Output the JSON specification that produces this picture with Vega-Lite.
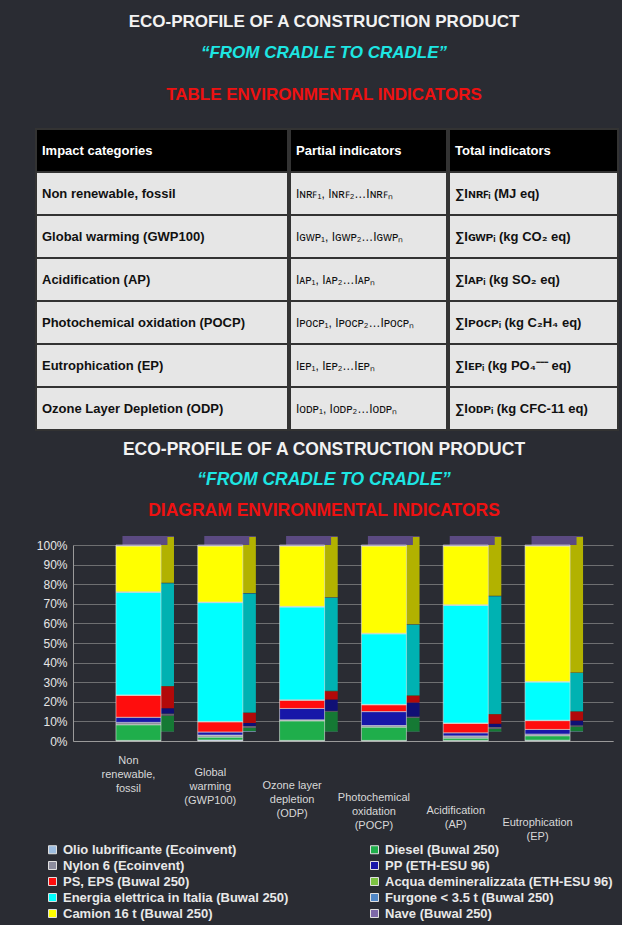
{
  "$schema": "https://vega.github.io/schema/vega-lite/v6.json",
  "background": "#2a2c33",
  "padding": {"left": 0, "top": 0, "right": 0, "bottom": 4},
  "spacing": 0,
  "config": {"view": {"stroke": null}, "font": "Liberation Sans"},
  "datasets": {
    "table": [
      {"row": 0, "c1": "Impact categories", "c2": "Partial indicators", "c3": "Total indicators"},
      {"row": 1, "c1": "Non renewable, fossil", "c2": "Iɴʀꜰ₁, Iɴʀꜰ₂…Iɴʀꜰₙ", "c3": "∑Iɴʀꜰᵢ  (MJ eq)"},
      {"row": 2, "c1": "Global warming (GWP100)", "c2": "Iɢᴡᴘ₁, Iɢᴡᴘ₂…Iɢᴡᴘₙ", "c3": "∑Iɢᴡᴘᵢ (kg CO₂ eq)"},
      {"row": 3, "c1": "Acidification (AP)", "c2": "Iᴀᴘ₁, Iᴀᴘ₂…Iᴀᴘₙ", "c3": "∑Iᴀᴘᵢ (kg SO₂ eq)"},
      {"row": 4, "c1": "Photochemical oxidation (POCP)", "c2": "Iᴘᴏᴄᴘ₁, Iᴘᴏᴄᴘ₂…Iᴘᴏᴄᴘₙ", "c3": "∑Iᴘᴏᴄᴘᵢ (kg C₂H₄ eq)"},
      {"row": 5, "c1": "Eutrophication (EP)", "c2": "Iᴇᴘ₁, Iᴇᴘ₂…Iᴇᴘₙ", "c3": "∑Iᴇᴘᵢ (kg PO₄⁻⁻⁻ eq)"},
      {"row": 6, "c1": "Ozone Layer Depletion (ODP)", "c2": "Iᴏᴅᴘ₁, Iᴏᴅᴘ₂…Iᴏᴅᴘₙ", "c3": "∑Iᴏᴅᴘᵢ  (kg CFC-11 eq)"}
    ],
    "bars": [
      {"cat": "Non\nrenewable,\nfossil", "comp": "Olio lubrificante (Ecoinvent)", "ord": 1, "pct": 0.3},
      {"cat": "Non\nrenewable,\nfossil", "comp": "Diesel (Buwal 250)", "ord": 2, "pct": 8.0},
      {"cat": "Non\nrenewable,\nfossil", "comp": "Nylon 6 (Ecoinvent)", "ord": 3, "pct": 1.2},
      {"cat": "Non\nrenewable,\nfossil", "comp": "PP (ETH-ESU 96)", "ord": 4, "pct": 2.6},
      {"cat": "Non\nrenewable,\nfossil", "comp": "PS, EPS (Buwal 250)", "ord": 5, "pct": 11.2},
      {"cat": "Non\nrenewable,\nfossil", "comp": "Acqua demineralizzata (ETH-ESU 96)", "ord": 6, "pct": 0.2},
      {"cat": "Non\nrenewable,\nfossil", "comp": "Energia elettrica in Italia (Buwal 250)", "ord": 7, "pct": 52.4},
      {"cat": "Non\nrenewable,\nfossil", "comp": "Furgone < 3.5 t (Buwal 250)", "ord": 8, "pct": 0.2},
      {"cat": "Non\nrenewable,\nfossil", "comp": "Camion 16 t (Buwal 250)", "ord": 9, "pct": 23.4},
      {"cat": "Non\nrenewable,\nfossil", "comp": "Nave (Buwal 250)", "ord": 10, "pct": 0.5},
      {"cat": "Global\nwarming\n(GWP100)", "comp": "Olio lubrificante (Ecoinvent)", "ord": 1, "pct": 0.5},
      {"cat": "Global\nwarming\n(GWP100)", "comp": "Diesel (Buwal 250)", "ord": 2, "pct": 1.5},
      {"cat": "Global\nwarming\n(GWP100)", "comp": "Nylon 6 (Ecoinvent)", "ord": 3, "pct": 1.0},
      {"cat": "Global\nwarming\n(GWP100)", "comp": "PP (ETH-ESU 96)", "ord": 4, "pct": 1.6},
      {"cat": "Global\nwarming\n(GWP100)", "comp": "PS, EPS (Buwal 250)", "ord": 5, "pct": 5.2},
      {"cat": "Global\nwarming\n(GWP100)", "comp": "Acqua demineralizzata (ETH-ESU 96)", "ord": 6, "pct": 0.2},
      {"cat": "Global\nwarming\n(GWP100)", "comp": "Energia elettrica in Italia (Buwal 250)", "ord": 7, "pct": 60.6},
      {"cat": "Global\nwarming\n(GWP100)", "comp": "Furgone < 3.5 t (Buwal 250)", "ord": 8, "pct": 0.3},
      {"cat": "Global\nwarming\n(GWP100)", "comp": "Camion 16 t (Buwal 250)", "ord": 9, "pct": 28.6},
      {"cat": "Global\nwarming\n(GWP100)", "comp": "Nave (Buwal 250)", "ord": 10, "pct": 0.5},
      {"cat": "Ozone layer\ndepletion\n(ODP)", "comp": "Olio lubrificante (Ecoinvent)", "ord": 1, "pct": 0.3},
      {"cat": "Ozone layer\ndepletion\n(ODP)", "comp": "Diesel (Buwal 250)", "ord": 2, "pct": 10.0},
      {"cat": "Ozone layer\ndepletion\n(ODP)", "comp": "Nylon 6 (Ecoinvent)", "ord": 3, "pct": 0.5},
      {"cat": "Ozone layer\ndepletion\n(ODP)", "comp": "PP (ETH-ESU 96)", "ord": 4, "pct": 5.8},
      {"cat": "Ozone layer\ndepletion\n(ODP)", "comp": "PS, EPS (Buwal 250)", "ord": 5, "pct": 4.2},
      {"cat": "Ozone layer\ndepletion\n(ODP)", "comp": "Acqua demineralizzata (ETH-ESU 96)", "ord": 6, "pct": 0.2},
      {"cat": "Ozone layer\ndepletion\n(ODP)", "comp": "Energia elettrica in Italia (Buwal 250)", "ord": 7, "pct": 47.4},
      {"cat": "Ozone layer\ndepletion\n(ODP)", "comp": "Furgone < 3.5 t (Buwal 250)", "ord": 8, "pct": 0.3},
      {"cat": "Ozone layer\ndepletion\n(ODP)", "comp": "Camion 16 t (Buwal 250)", "ord": 9, "pct": 30.8},
      {"cat": "Ozone layer\ndepletion\n(ODP)", "comp": "Nave (Buwal 250)", "ord": 10, "pct": 0.5},
      {"cat": "Photochemical\noxidation\n(POCP)", "comp": "Olio lubrificante (Ecoinvent)", "ord": 1, "pct": 0.3},
      {"cat": "Photochemical\noxidation\n(POCP)", "comp": "Diesel (Buwal 250)", "ord": 2, "pct": 6.8},
      {"cat": "Photochemical\noxidation\n(POCP)", "comp": "Nylon 6 (Ecoinvent)", "ord": 3, "pct": 0.8},
      {"cat": "Photochemical\noxidation\n(POCP)", "comp": "PP (ETH-ESU 96)", "ord": 4, "pct": 7.1},
      {"cat": "Photochemical\noxidation\n(POCP)", "comp": "PS, EPS (Buwal 250)", "ord": 5, "pct": 3.5},
      {"cat": "Photochemical\noxidation\n(POCP)", "comp": "Acqua demineralizzata (ETH-ESU 96)", "ord": 6, "pct": 0.2},
      {"cat": "Photochemical\noxidation\n(POCP)", "comp": "Energia elettrica in Italia (Buwal 250)", "ord": 7, "pct": 36.0},
      {"cat": "Photochemical\noxidation\n(POCP)", "comp": "Furgone < 3.5 t (Buwal 250)", "ord": 8, "pct": 0.3},
      {"cat": "Photochemical\noxidation\n(POCP)", "comp": "Camion 16 t (Buwal 250)", "ord": 9, "pct": 44.5},
      {"cat": "Photochemical\noxidation\n(POCP)", "comp": "Nave (Buwal 250)", "ord": 10, "pct": 0.5},
      {"cat": "Acidification\n(AP)", "comp": "Olio lubrificante (Ecoinvent)", "ord": 1, "pct": 0.3},
      {"cat": "Acidification\n(AP)", "comp": "Diesel (Buwal 250)", "ord": 2, "pct": 1.2},
      {"cat": "Acidification\n(AP)", "comp": "Nylon 6 (Ecoinvent)", "ord": 3, "pct": 1.1},
      {"cat": "Acidification\n(AP)", "comp": "PP (ETH-ESU 96)", "ord": 4, "pct": 1.6},
      {"cat": "Acidification\n(AP)", "comp": "PS, EPS (Buwal 250)", "ord": 5, "pct": 4.8},
      {"cat": "Acidification\n(AP)", "comp": "Acqua demineralizzata (ETH-ESU 96)", "ord": 6, "pct": 0.2},
      {"cat": "Acidification\n(AP)", "comp": "Energia elettrica in Italia (Buwal 250)", "ord": 7, "pct": 60.0},
      {"cat": "Acidification\n(AP)", "comp": "Furgone < 3.5 t (Buwal 250)", "ord": 8, "pct": 0.3},
      {"cat": "Acidification\n(AP)", "comp": "Camion 16 t (Buwal 250)", "ord": 9, "pct": 30.0},
      {"cat": "Acidification\n(AP)", "comp": "Nave (Buwal 250)", "ord": 10, "pct": 0.5},
      {"cat": "Eutrophication\n(EP)", "comp": "Olio lubrificante (Ecoinvent)", "ord": 1, "pct": 0.4},
      {"cat": "Eutrophication\n(EP)", "comp": "Diesel (Buwal 250)", "ord": 2, "pct": 2.3},
      {"cat": "Eutrophication\n(EP)", "comp": "Nylon 6 (Ecoinvent)", "ord": 3, "pct": 0.8},
      {"cat": "Eutrophication\n(EP)", "comp": "PP (ETH-ESU 96)", "ord": 4, "pct": 2.4},
      {"cat": "Eutrophication\n(EP)", "comp": "PS, EPS (Buwal 250)", "ord": 5, "pct": 4.5},
      {"cat": "Eutrophication\n(EP)", "comp": "Acqua demineralizzata (ETH-ESU 96)", "ord": 6, "pct": 0.2},
      {"cat": "Eutrophication\n(EP)", "comp": "Energia elettrica in Italia (Buwal 250)", "ord": 7, "pct": 19.5},
      {"cat": "Eutrophication\n(EP)", "comp": "Furgone < 3.5 t (Buwal 250)", "ord": 8, "pct": 0.3},
      {"cat": "Eutrophication\n(EP)", "comp": "Camion 16 t (Buwal 250)", "ord": 9, "pct": 69.1},
      {"cat": "Eutrophication\n(EP)", "comp": "Nave (Buwal 250)", "ord": 10, "pct": 0.5}
    ]
  },
  "vconcat": [
    {"width": 622, "height": 44, "data": {"values": [{"t": "ECO-PROFILE OF A CONSTRUCTION PRODUCT"}]},
     "mark": {"type": "text", "fontSize": 17, "fontWeight": "bold", "color": "#f2f2f2", "dx": 13},
     "encoding": {"text": {"field": "t"}}},
    {"width": 622, "height": 16, "data": {"values": [{"t": "“FROM CRADLE TO CRADLE”"}]},
     "mark": {"type": "text", "fontSize": 17, "fontWeight": "bold", "fontStyle": "italic", "color": "#1de6e3", "dx": 13},
     "encoding": {"text": {"field": "t"}}},
    {"width": 622, "height": 67, "data": {"values": [{"t": "TABLE ENVIRONMENTAL INDICATORS"}]},
     "mark": {"type": "text", "fontSize": 17, "fontWeight": "bold", "color": "#ee1111", "dx": 13},
     "encoding": {"text": {"field": "t"}}},
    {"data": {"name": "table"}, "spacing": 0,
     "hconcat": [
       {"width": 35, "height": 301, "data": {"values": []}, "mark": {"type": "text"}, "encoding": {}},
       {"width": 252, "height": 301,
        "encoding": {"y": {"field": "row", "type": "ordinal", "scale": {"paddingInner": 0, "paddingOuter": 0}, "axis": null}},
        "layer": [
          {"mark": {"type": "rect", "stroke": "#333333", "strokeWidth": 2},
           "encoding": {"x": {"datum": 0, "type": "quantitative", "scale": {"domain": [0, 1]}, "axis": null}, "x2": {"datum": 1},
             "fill": {"condition": {"test": "datum.row == 0", "value": "#000000"}, "value": "#e6e6e6"}}},
          {"transform": [{"filter": "datum.row == 0"}], "mark": {"type": "text", "align": "left", "dx": 6, "fontSize": 13, "fontWeight": "bold", "color": "#ffffff"},
           "encoding": {"x": {"datum": 0, "type": "quantitative"}, "text": {"field": "c1"}}},
          {"transform": [{"filter": "datum.row > 0"}], "mark": {"type": "text", "align": "left", "dx": 6, "fontSize": 13, "fontWeight": "bold", "color": "#111111"},
           "encoding": {"x": {"datum": 0, "type": "quantitative"}, "text": {"field": "c1"}}}
        ]},
       {"width": 157, "height": 301,
        "encoding": {"y": {"field": "row", "type": "ordinal", "scale": {"paddingInner": 0, "paddingOuter": 0}, "axis": null}},
        "layer": [
          {"mark": {"type": "rect", "stroke": "#333333", "strokeWidth": 2},
           "encoding": {"x": {"datum": 0, "type": "quantitative", "scale": {"domain": [0, 1]}, "axis": null}, "x2": {"datum": 1},
             "fill": {"condition": {"test": "datum.row == 0", "value": "#000000"}, "value": "#e6e6e6"}}},
          {"transform": [{"filter": "datum.row == 0"}], "mark": {"type": "text", "align": "left", "dx": 6, "fontSize": 13, "fontWeight": "bold", "color": "#ffffff"},
           "encoding": {"x": {"datum": 0, "type": "quantitative"}, "text": {"field": "c2"}}},
          {"transform": [{"filter": "datum.row > 0"}], "mark": {"type": "text", "align": "left", "dx": 6, "fontSize": 12, "color": "#111111"},
           "encoding": {"x": {"datum": 0, "type": "quantitative"}, "text": {"field": "c2"}}}
        ]},
       {"width": 169, "height": 301,
        "encoding": {"y": {"field": "row", "type": "ordinal", "scale": {"paddingInner": 0, "paddingOuter": 0}, "axis": null}},
        "layer": [
          {"mark": {"type": "rect", "stroke": "#333333", "strokeWidth": 2},
           "encoding": {"x": {"datum": 0, "type": "quantitative", "scale": {"domain": [0, 1]}, "axis": null}, "x2": {"datum": 1},
             "fill": {"condition": {"test": "datum.row == 0", "value": "#000000"}, "value": "#e6e6e6"}}},
          {"transform": [{"filter": "datum.row == 0"}], "mark": {"type": "text", "align": "left", "dx": 6, "fontSize": 13, "fontWeight": "bold", "color": "#ffffff"},
           "encoding": {"x": {"datum": 0, "type": "quantitative"}, "text": {"field": "c3"}}},
          {"transform": [{"filter": "datum.row > 0"}], "mark": {"type": "text", "align": "left", "dx": 6, "fontSize": 13, "fontWeight": "bold", "color": "#111111"},
           "encoding": {"x": {"datum": 0, "type": "quantitative"}, "text": {"field": "c3"}}}
        ]}
     ]},
    {"width": 622, "height": 38, "data": {"values": [{"t": "ECO-PROFILE OF A CONSTRUCTION PRODUCT"}]},
     "mark": {"type": "text", "fontSize": 17.5, "fontWeight": "bold", "color": "#f2f2f2", "dx": 13},
     "encoding": {"text": {"field": "t"}}},
    {"width": 622, "height": 22, "data": {"values": [{"t": "“FROM CRADLE TO CRADLE”"}]},
     "mark": {"type": "text", "fontSize": 17.5, "fontWeight": "bold", "fontStyle": "italic", "color": "#1de6e3", "dx": 13},
     "encoding": {"text": {"field": "t"}}},
    {"width": 622, "height": 45, "data": {"values": [{"t": "DIAGRAM ENVIRONMENTAL INDICATORS"}]},
     "mark": {"type": "text", "fontSize": 17.5, "fontWeight": "bold", "color": "#ee1111", "dy": -3, "dx": 13},
     "encoding": {"text": {"field": "t"}}},
    {"spacing": 0,
     "hconcat": [
      {"width": 36, "height": 196, "data": {"values": []}, "mark": {"type": "text"}, "encoding": {}},
      {"width": 540, "height": 196,
       "data": {"name": "bars"},
       "encoding": {
         "x": {"field": "cat", "type": "nominal",
               "sort": ["Non\nrenewable,\nfossil", "Global\nwarming\n(GWP100)", "Ozone layer\ndepletion\n(ODP)", "Photochemical\noxidation\n(POCP)", "Acidification\n(AP)", "Eutrophication\n(EP)"],
               "scale": {"paddingInner": 0.45, "paddingOuter": 0.525},
               "axis": {"title": null, "labels": false, "ticks": false, "domainColor": "#9a9a9a"}},
         "y": {"field": "pct", "type": "quantitative", "stack": "normalize",
               "axis": {"title": null, "values": [0, 0.1, 0.2, 0.3, 0.4, 0.5, 0.6, 0.7, 0.8, 0.9, 1], "format": ".0%",
                        "labelColor": "#e6e6e6", "labelFontSize": 12, "ticks": false, "labelPadding": 6,
                        "gridColor": "#8c8c8c", "gridOpacity": 0.7, "domainColor": "#9a9a9a"}},
         "order": {"field": "ord", "type": "quantitative"}
       },
       "layer": [
         {"mark": {"type": "bar", "xOffset": 13, "yOffset": -9, "y2Offset": -9},
          "encoding": {"color": {"field": "comp", "type": "nominal",
            "scale": {"domain": ["Olio lubrificante (Ecoinvent)", "Diesel (Buwal 250)", "Nylon 6 (Ecoinvent)", "PP (ETH-ESU 96)", "PS, EPS (Buwal 250)", "Acqua demineralizzata (ETH-ESU 96)", "Energia elettrica in Italia (Buwal 250)", "Furgone < 3.5 t (Buwal 250)", "Camion 16 t (Buwal 250)", "Nave (Buwal 250)"],
                      "range": ["#9dbde0", "#1fae4b", "#8d8d9e", "#1717a8", "#ff0d0d", "#7cc242", "#00ffff", "#4f86c6", "#ffff00", "#7d68a8"]},
            "legend": {"title": null, "orient": "none", "legendX": 46, "legendY": 843, "direction": "horizontal", "columns": 2, "columnPadding": 79, "rowPadding": 2,
                       "symbolType": "square", "symbolSize": 64, "symbolStrokeColor": "#dddddd", "symbolStrokeWidth": 1,
                       "labelColor": "#e8e8e8", "labelFontSize": 13, "labelFontWeight": "bold", "labelLimit": 400}}}},
         {"mark": {"type": "bar", "xOffset": 13, "yOffset": -9, "y2Offset": -9, "color": "#000000", "opacity": 0.3},
          "encoding": {"detail": {"field": "comp"}}},
         {"transform": [{"filter": "datum.ord == 10"}],
          "mark": {"type": "tick", "orient": "horizontal", "thickness": 9, "size": 45, "xOffset": 6.5, "yOffset": -4.5, "color": "#5b4a82", "opacity": 1},
          "encoding": {"y": {"datum": 1, "type": "quantitative"}}},
         {"mark": {"type": "bar", "stroke": "#e0e0e0", "strokeWidth": 0.6},
          "encoding": {"color": {"field": "comp", "type": "nominal"}}},
         {"transform": [{"filter": "datum.ord == 1"}],
          "mark": {"type": "text", "lineBreak": "\n", "lineHeight": 14, "baseline": "top", "align": "center", "fontSize": 11, "color": "#d8d8d8", "dx": -10,
                   "dy": {"expr": "14 + 12.4 * indexof(['Non','Glo','Ozo','Pho','Aci','Eut'], slice(datum.cat, 0, 3))"}},
          "encoding": {"y": {"datum": 0, "type": "quantitative"}, "text": {"field": "cat"}}}
       ]}
     ]}
  ]
}
